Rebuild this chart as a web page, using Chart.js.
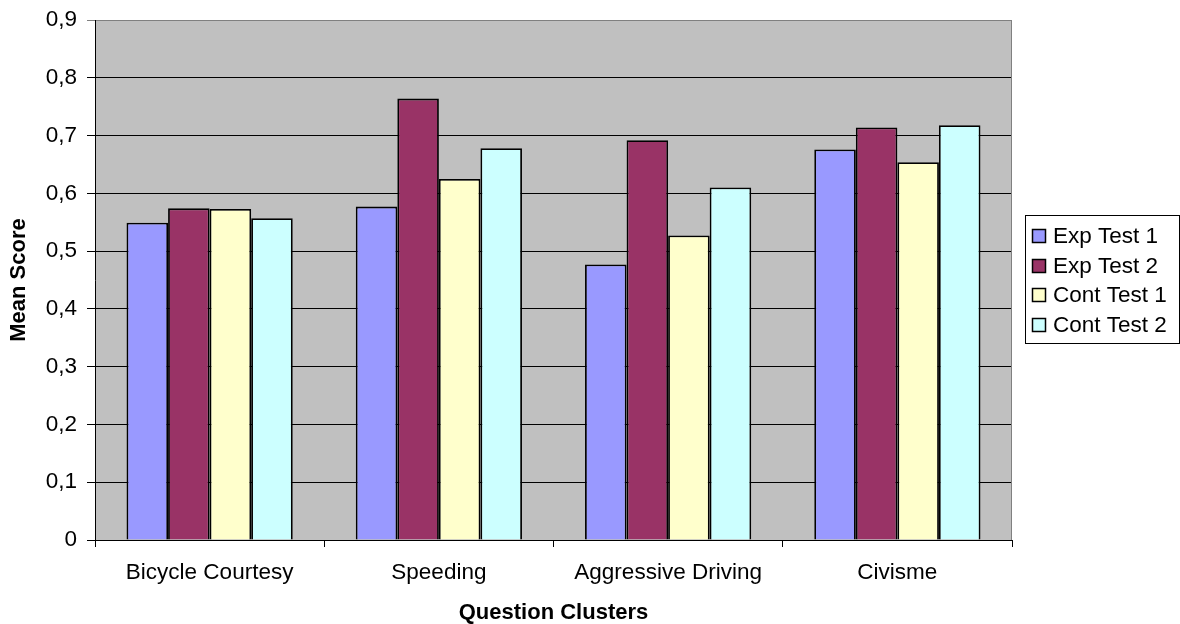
<!DOCTYPE html>
<html>
<head>
<meta charset="utf-8">
<title>Mean Score by Question Cluster</title>
<script src="https://cdn.jsdelivr.net/npm/chart.js@4/dist/chart.umd.min.js"></script>
<style>
  html, body { margin: 0; padding: 0; background: #ffffff; }
  #wrap { width: 1180px; height: 624px; position: relative; }
</style>
</head>
<body>
<div id="wrap"><canvas id="chart" width="1180" height="624"></canvas></div>
<script>
// Question clusters on the x axis
const categories = ['Bicycle Courtesy', 'Speeding', 'Aggressive Driving', 'Civisme'];

// Mean scores per test group
const expTest1 = [0.549, 0.577, 0.477, 0.676];
const expTest2 = [0.574, 0.764, 0.692, 0.714];
const contTest1 = [0.573, 0.625, 0.527, 0.654];
const contTest2 = [0.557, 0.678, 0.610, 0.718];

const seriesNames = ['Exp Test 1', 'Exp Test 2', 'Cont Test 1', 'Cont Test 2'];
const seriesColors = ['#9999FF', '#993366', '#FFFFCC', '#CCFFFF'];

// Value axis labels (decimal comma)
const yTickLabels = ['0', '0,1', '0,2', '0,3', '0,4', '0,5', '0,6', '0,7', '0,8', '0,9'];

const FONT = "'Liberation Sans', Arial, Helvetica, sans-serif";

// Grey plot background plus a thin grey frame on the right edge
const plotBackground = {
  id: 'plotBackground',
  beforeDraw(chart) {
    const { ctx, chartArea: a } = chart;
    ctx.save();
    ctx.fillStyle = '#C0C0C0';
    ctx.fillRect(a.left, a.top, a.right - a.left, a.bottom - a.top);
    ctx.restore();
  },
  beforeDatasetsDraw(chart) {
    const { ctx, chartArea: a } = chart;
    ctx.save();
    ctx.strokeStyle = '#808080';
    ctx.lineWidth = 1;
    ctx.beginPath();
    ctx.moveTo(Math.round(a.right) - 0.5, a.top);
    ctx.lineTo(Math.round(a.right) - 0.5, a.bottom);
    ctx.stroke();
    ctx.restore();
  }
};

// Boxed legend at the right, built from the datasets
const boxedLegend = {
  id: 'boxedLegend',
  afterDraw(chart) {
    const { ctx } = chart;
    const box = { x: 1025, y: 215, w: 154, h: 128 };
    const rowH = 29.7;
    const firstRow = 235.8;
    ctx.save();
    ctx.fillStyle = '#ffffff';
    ctx.fillRect(box.x, box.y, box.w, box.h);
    ctx.strokeStyle = '#000000';
    ctx.lineWidth = 1;
    ctx.strokeRect(box.x + 0.5, box.y + 0.5, box.w, box.h);
    ctx.font = '22.5px ' + FONT;
    ctx.textBaseline = 'middle';
    ctx.textAlign = 'left';
    chart.data.datasets.forEach((ds, i) => {
      const cy = firstRow + i * rowH;
      const sq = 14;
      const sx = 1032;
      const sy = Math.round(cy - sq / 2);
      ctx.fillStyle = ds.backgroundColor;
      ctx.fillRect(sx, sy, sq, sq);
      ctx.strokeStyle = '#000000';
      ctx.lineWidth = 1.5;
      ctx.strokeRect(sx + 0.5, sy + 0.5, sq - 1, sq - 1);
      ctx.fillStyle = '#000000';
      ctx.fillText(ds.label, 1053, cy + 1);
    });
    ctx.restore();
  }
};

const seriesValues = [expTest1, expTest2, contTest1, contTest2];

new Chart(document.getElementById('chart'), {
  type: 'bar',
  data: {
    labels: categories,
    datasets: seriesNames.map((name, i) => ({
      label: name,
      data: seriesValues[i],
      backgroundColor: seriesColors[i],
      borderColor: '#000000',
      borderWidth: 1.8,
      categoryPercentage: 0.725,
      barPercentage: 1.0
    }))
  },
  options: {
    responsive: false,
    animation: false,
    devicePixelRatio: 1,
    layout: { padding: { left: 0, right: 168, top: 20, bottom: 0 } },
    plugins: {
      legend: { display: false },
      tooltip: { enabled: false }
    },
    scales: {
      x: {
        afterFit(scale) {
          scale.height = 84;
          scale.paddingLeft = 0;
          scale.paddingRight = 0;
        },
        grid: {
          offset: true,
          drawOnChartArea: false,
          drawTicks: true,
          tickLength: 7,
          color: '#000000',
          lineWidth: 1
        },
        border: { color: '#000000', width: 1 },
        ticks: {
          color: '#000000',
          padding: 12,
          font: { family: FONT, size: 22.5 },
          maxRotation: 0,
          autoSkip: false
        },
        title: {
          display: true,
          text: 'Question Clusters',
          color: '#000000',
          font: { family: FONT, size: 22, weight: 'bold', lineHeight: 1 },
          padding: { top: 0, bottom: 0 }
        }
      },
      y: {
        min: 0,
        max: 0.9,
        afterFit(scale) {
          scale.width = 95;
          scale.paddingTop = 0;
          scale.paddingBottom = 0;
        },
        grid: {
          drawOnChartArea: true,
          drawTicks: true,
          tickLength: 8,
          color: (ctx) => (ctx.tick && ctx.index === yTickLabels.length - 1) ? '#808080' : '#000000',
          lineWidth: 1
        },
        border: { color: '#000000', width: 1 },
        ticks: {
          stepSize: 0.1,
          color: '#000000',
          padding: 10,
          font: { family: FONT, size: 22.5 },
          callback: (value, index) => yTickLabels[index]
        },
        title: {
          display: true,
          text: 'Mean Score',
          color: '#000000',
          font: { family: FONT, size: 22, weight: 'bold' },
          padding: { top: 6, bottom: 0 }
        }
      }
    }
  },
  plugins: [plotBackground, boxedLegend]
});
</script>
</body>
</html>
